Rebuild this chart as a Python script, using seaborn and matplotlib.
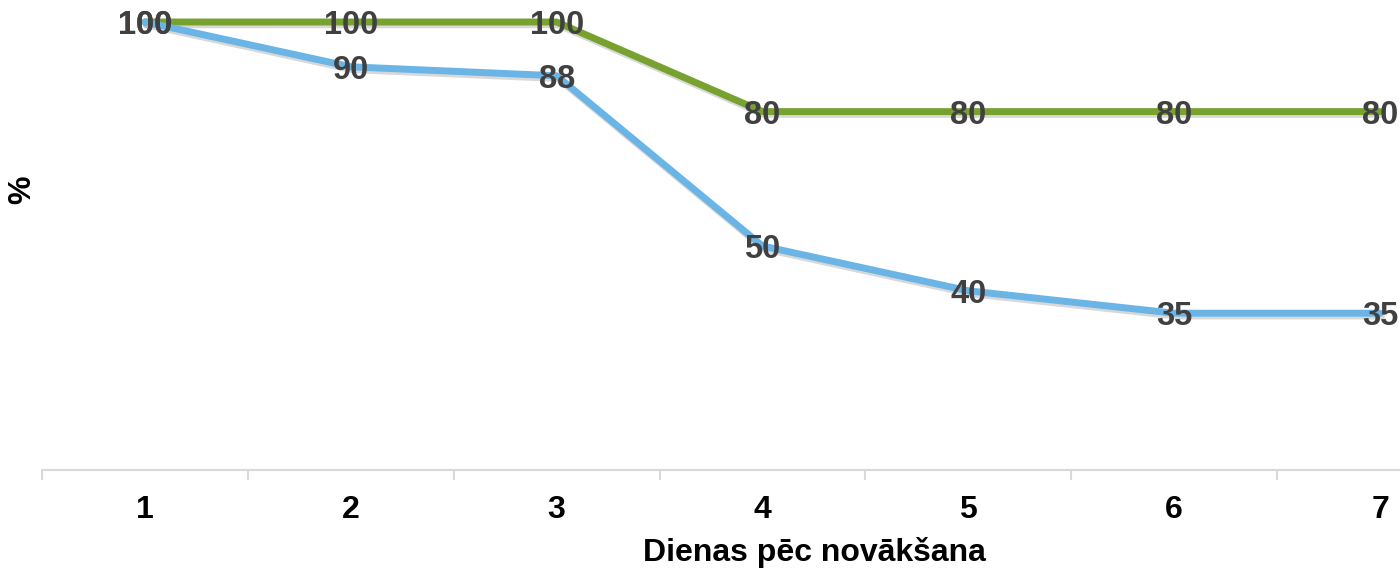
import matplotlib
matplotlib.use('Agg')
import matplotlib.pyplot as plt
import matplotlib.patheffects as pe
import numpy as np
import pandas as pd
import seaborn as sns

# %% data
days = [1, 2, 3, 4, 5, 6, 7]
green_vals = [100, 100, 100, 80, 80, 80, 80]
blue_vals = [100, 90, 88, 50, 40, 35, 35]
series_names = ['green', 'blue']
cols = {'green': '#77A22F', 'blue': '#6AB4E6'}

df = pd.DataFrame({
  'day': days * 2,
  'pct': green_vals + blue_vals,
  'series': [series_names[0]] * len(days) + [series_names[1]] * len(days),
})

# %% plot
sns.set_style('white')
plt.rcParams['font.family'] = ['Liberation Sans', 'DejaVu Sans']
fig = plt.figure(figsize=(14, 5.7), dpi=100)
ax = fig.add_axes([42/1400, 100/570, 1358/1400, 470/570])

sns.lineplot(data=df, x='day', y='pct', hue='series', palette=cols, lw=5,
             legend=False, ax=ax, sort=False)
for ln in ax.get_lines():
  ln.set_path_effects([pe.SimpleLineShadow(offset=(1, -2), shadow_color='gray', alpha=0.3),
                       pe.Normal()])
  ln.set_solid_joinstyle('round')
  ln.set_clip_on(False)

# value labels centred on the points
for vals in [green_vals, blue_vals]:
  for d, v in zip(days, vals):
    ax.text(d, v, str(v), ha='center', va='center_baseline', fontsize=23.5, fontweight='bold',
            color='#404040', zorder=5, clip_on=False)

ax.set_xlim(0.5, 7.097)
ax.set_ylim(0, 100*470/448)
ax.set_yticks([])
ax.set_xticks(days)
ax.set_xticklabels([str(d) for d in days], fontsize=23, fontweight='bold', color='black')
ax.set_xticks(np.arange(0.5, 7.5, 1), minor=True)
ax.tick_params(axis='x', which='major', length=0, pad=18)
ax.tick_params(axis='x', which='minor', length=7.5, width=1.5, color='#D9D9D9', direction='out')
ax.tick_params(axis='x', which='minor', bottom=True)
for s in ['top', 'right', 'left']:
  ax.spines[s].set_visible(False)
ax.spines['bottom'].set_color('#D9D9D9')
ax.spines['bottom'].set_linewidth(1.5)

ax.set_xlabel('Dienas pēc novākšana', fontsize=23, fontweight='bold', color='black')
ax.xaxis.set_label_coords((814-42)/1358, -82/470)
ax.xaxis.label.set_va('center')
ax.set_ylabel('%', fontsize=23, fontweight='bold', color='black')
ax.yaxis.set_label_coords(-20/1358, 280/470)
ax.yaxis.label.set_va('center')

fig.savefig('out.png', dpi=100)
